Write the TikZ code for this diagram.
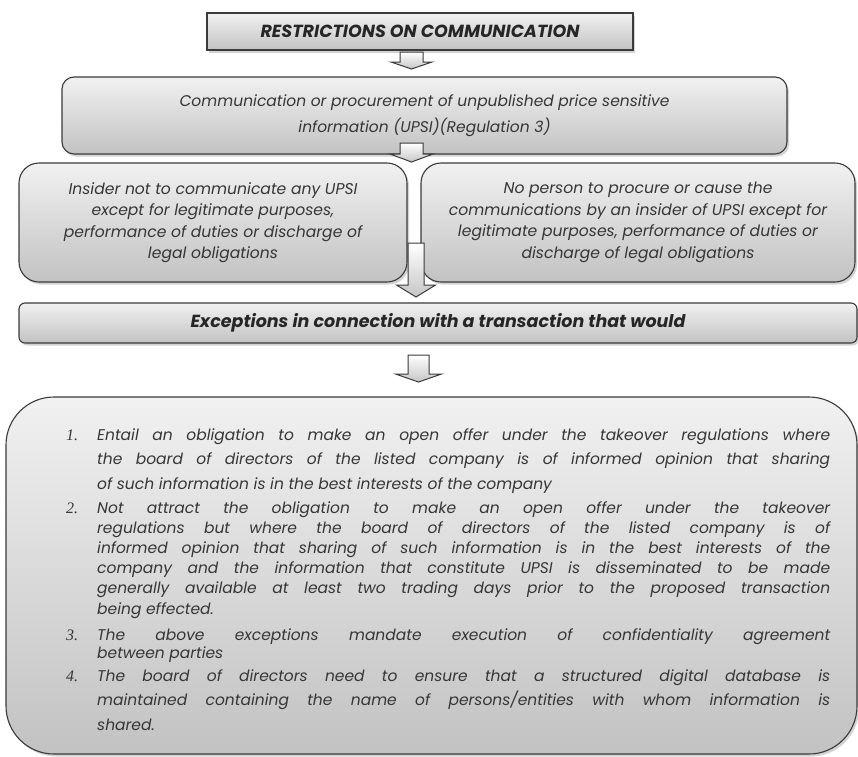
\documentclass[tikz,border=0pt]{standalone}
\usepackage{fontspec}
\setmainfont{Poppins}
\newfontfamily\numfont{Liberation Serif}
\usetikzlibrary{shadows}

\definecolor{boxline}{HTML}{3A3A3A}
\definecolor{boxtop}{HTML}{F1F1F1}
\definecolor{boxbottom}{HTML}{C2C2C2}
\definecolor{inktext}{HTML}{363636}

% block arrow: centre x, top of shaft, base of head, tip, shaft width, head width
\newcommand{\blockarrow}[6]{%
  \path[arrowpath] (#1-#5/2,#2) -- (#1+#5/2,#2) -- (#1+#5/2,#3) -- (#1+#6/2,#3)
    -- (#1,#4) -- (#1-#6/2,#3) -- (#1-#5/2,#3) -- cycle;}

\begin{document}
\begin{tikzpicture}[
	x=1pt, y=-1pt,
	% Define the styles for the boxes and the texts
	panel/.style={draw=boxline, line width=1.1pt, top color=boxtop, bottom color=boxbottom,
		drop shadow={shadow xshift=2pt, shadow yshift=-2.5pt, opacity=0.35},
		text=inktext, align=center, inner sep=0pt},
	arrowpath/.style={draw=boxline, line width=1pt, top color=white, bottom color=gray!45, line join=miter},
	bodyfont/.style={font=\fontsize{15.6}{21.5}\selectfont\itshape},
	itemtext/.style={anchor=base west, text width=733pt, inner sep=0pt, align=justify, text=inktext},
	itemnum/.style={anchor=base west, inner sep=0pt, text=inktext, font=\numfont\itshape\fontsize{16}{16}\selectfont}
	]
	
	\useasboundingbox (0,0) rectangle (858,756);
	
	% --- BOXES ---
	% Format: \node (internal_name) at (x,y) [size] {text};
	
	\node (title) at (420,31.5) [panel, minimum width=426pt, minimum height=37pt,
		font=\fontsize{17.5}{18}\selectfont\bfseries\itshape, text=black!85] {RESTRICTIONS ON COMMUNICATION};
	\node (upsi) at (424.5,115.5) [panel, rounded corners=12pt, minimum width=725pt, minimum height=77pt,
		font=\fontsize{15.5}{26}\selectfont\itshape] {Communication or procurement of unpublished price sensitive\\ information (UPSI)(Regulation 3)};
	\node (insider) at (213,222.5) [panel, rounded corners=20pt, minimum width=388pt, minimum height=119pt, bodyfont]
		{Insider not to communicate any UPSI\\ except for legitimate purposes,\\ performance of duties or discharge of\\ legal obligations};
	\node (person) at (638,222.5) [panel, rounded corners=20pt, minimum width=434pt, minimum height=119pt, bodyfont]
		{No person to procure or cause the\\ communications by an insider of UPSI except for\\ legitimate purposes, performance of duties or\\ discharge of legal obligations};
	\node (except) at (438,323) [panel, rounded corners=6pt, minimum width=838pt, minimum height=40pt,
		font=\fontsize{17.5}{18}\selectfont\bfseries\itshape, text=black!85] {Exceptions in connection with a transaction that would};
	\node (cases) at (431.5,575.5) [panel, rounded corners=48pt, minimum width=851pt, minimum height=357pt] {};
	
	% --- ARROWS ---
	\blockarrow{411.5}{52}{62}{69}{23}{41}   % title to upsi
	\blockarrow{411.5}{143}{154}{162}{23}{43} % upsi to the two rules
	\blockarrow{416}{243}{285}{297}{16}{39}   % rules to exceptions
	\blockarrow{418.5}{355}{374}{382}{21}{46} % exceptions to cases
	
	% --- LIST OF CASES ---
	\node (n1) at (66,440) [itemnum] {1.};
	\node (c1) at (97,440) [itemtext, font=\fontsize{15.5}{24.5}\selectfont\itshape]
		{Entail an obligation to make an open offer under the takeover regulations where\linebreak
		the board of directors of the listed company is of informed opinion that sharing\linebreak
		of such information is in the best interests of the company};
	\node (n2) at (66,513) [itemnum] {2.};
	\node (c2) at (97,513) [itemtext, font=\fontsize{15.5}{20.2}\selectfont\itshape]
		{Not attract the obligation to make an open offer under the takeover\linebreak
		regulations but where the board of directors of the listed company is of\linebreak
		informed opinion that sharing of such information is in the best interests of the\linebreak
		company and the information that constitute UPSI is disseminated to be made\linebreak
		generally available at least two trading days prior to the proposed transaction\linebreak
		being effected.};
	\node (n3) at (66,640) [itemnum] {3.};
	\node (c3) at (97,640) [itemtext, font=\fontsize{15.5}{18}\selectfont\itshape]
		{The above exceptions mandate execution of confidentiality agreement\linebreak
		between parties};
	\node (n4) at (66,681) [itemnum] {4.};
	\node (c4) at (97,681) [itemtext, font=\fontsize{15.5}{24.5}\selectfont\itshape]
		{The board of directors need to ensure that a structured digital database is\linebreak
		maintained containing the name of persons/entities with whom information is\linebreak
		shared.};
	
\end{tikzpicture}
\end{document}
